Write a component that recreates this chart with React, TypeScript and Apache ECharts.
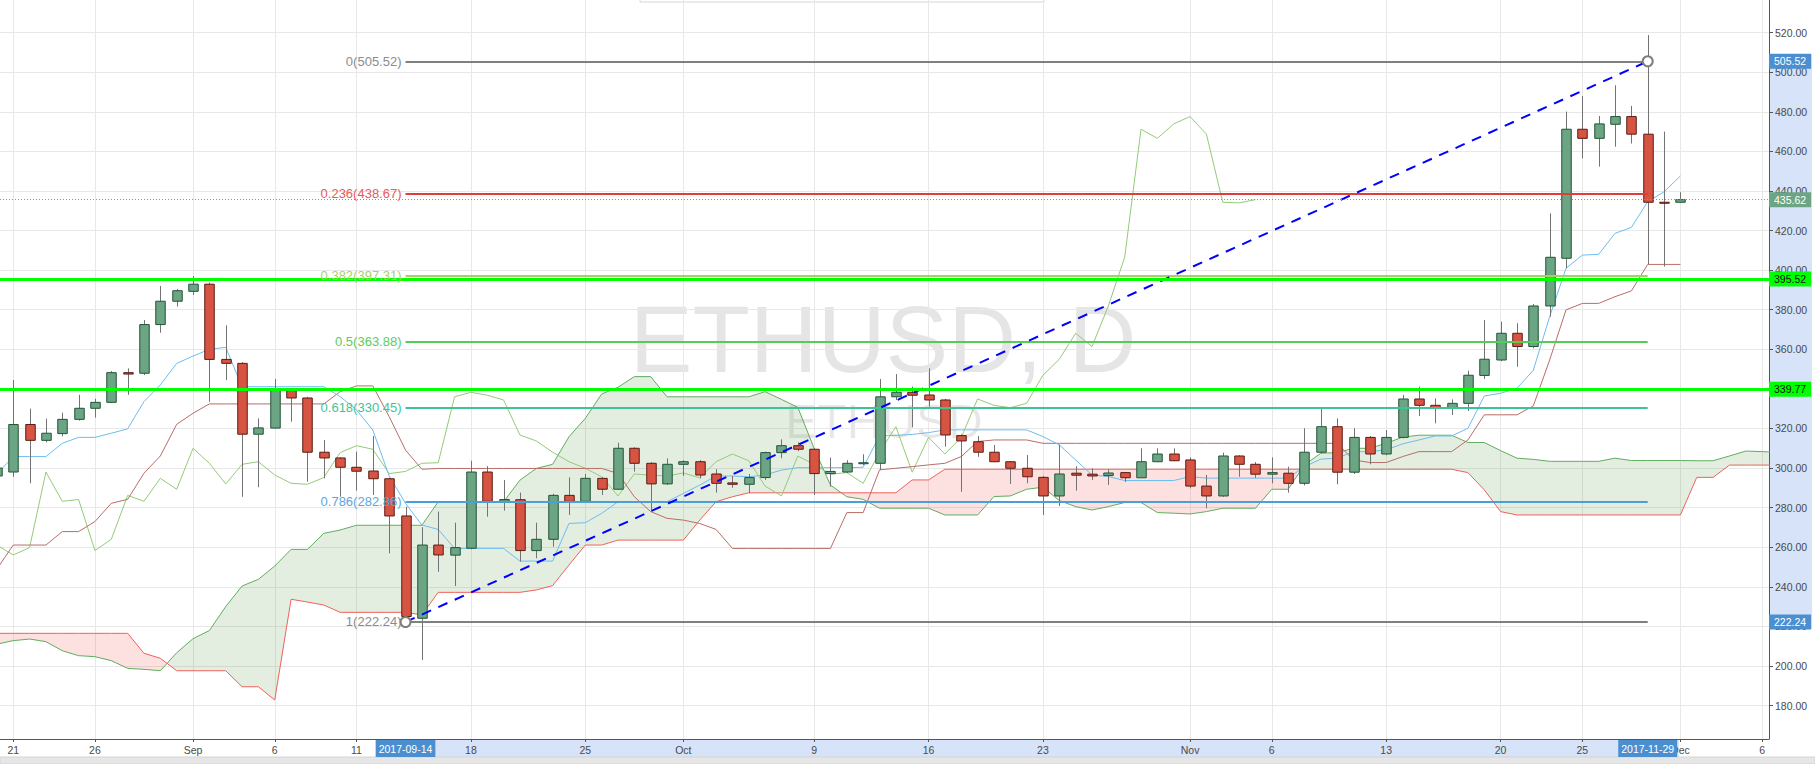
import React, { useEffect, useRef } from "react";
import * as echarts from "echarts";

// Day index 0 = 2017-08-21; first candle is 2017-08-20 (day -1)
const START_DAY = -1;

const opens = [
  296, 298, 322, 314, 317.4, 324.6, 330.2, 333.2, 348.2, 347.9,
  372.5, 384.3, 389.3, 392.9, 354.9, 352.9, 317.1, 320.2, 339.3, 335.4,
  308, 305.1, 300.4, 298.5, 294.6, 275.8, 224.1, 261.1, 256, 259.5,
  298, 283.2, 284, 258.3, 264, 286.2, 283.2, 294.8, 289.3, 310,
  302.4, 292, 301.9, 303.2, 297, 292.5, 291.8, 295.2, 307.8, 311.3,
  309.5, 297.2, 298, 302.2, 302.4, 336, 338.3, 336.9, 334.4, 316.4,
  313.3, 308, 303.2, 299.9, 295.3, 285.9, 297.4, 296.9, 296.2, 297.7,
  295.1, 303.2, 307.1, 304.1, 290.9, 285.9, 306.1, 301.9, 296.9, 297.4,
  292.3, 308, 320.9, 297.9, 315.5, 307.1, 315.5, 334.9, 331.7, 330.2,
  332.7, 346.8, 354.6, 368.1, 361.4, 381.9, 406, 471.2, 466.6, 473.7,
  477.6, 468.7, 434.3, 434.3,
];
const highs = [
  302, 344.5, 330, 325, 328, 337, 335, 349, 350.4, 374.8,
  392, 390.5, 397, 393.7, 372.1, 353.5, 325.1, 345, 340, 336,
  314.2, 305.5, 308.3, 316.2, 295, 280.5, 270.1, 278, 272.4, 303.7,
  301, 294, 287.6, 272.4, 287, 295.3, 297, 295.5, 312.8, 310.5,
  303, 304.9, 304, 304, 299.4, 296, 297, 308.3, 314.5, 313,
  310, 305.3, 304, 307, 345, 347.5, 341.2, 350.4, 335, 317,
  316.2, 311.7, 303.5, 306.6, 296, 311.8, 301, 299.9, 299.4, 298,
  310, 310, 310, 305.4, 296.5, 307.8, 306.5, 303, 305.4, 300.7,
  320.1, 329.9, 325.1, 320.1, 316.2, 319.2, 336.9, 341.2, 335.2, 334.7,
  349.2, 374.8, 374, 373.2, 382.9, 428.7, 480.1, 488, 477.9, 493.4,
  483, 518.8, 470, 439.4,
];
const lows = [
  292, 295.6, 292.3, 313, 316, 324, 325.5, 333, 337, 347,
  368.4, 381.6, 387.5, 333.5, 344.4, 285.5, 290.3, 320, 323.4, 293.1,
  294.8, 285.5, 288.6, 286.4, 256.9, 222, 203, 247.6, 240.4, 259,
  275.4, 278.5, 252.7, 254.4, 260.3, 276.3, 283, 286.4, 289, 298.2,
  278, 291.5, 296, 294.8, 287.6, 290, 287.3, 294, 305, 308.5,
  286.4, 290.6, 297.5, 301.5, 299, 334.4, 320.6, 331, 310.8, 288,
  305.7, 303, 292, 292.3, 276.3, 280.8, 288.6, 294, 291.5, 293,
  295, 303, 303.5, 289.8, 279.7, 285.5, 295.6, 295, 292.3, 287.6,
  291.2, 307.5, 291.8, 297, 301.9, 306.5, 315, 326.3, 322.6, 326.8,
  328.8, 345, 354, 351.2, 360.5, 376.5, 401, 456.5, 452.3, 462.4,
  464, 403, 401.8, 434,
];
const closes = [
  300, 322, 314, 317.6, 324.6, 330.2, 333.2, 348.2, 347.5, 372.5,
  384.3, 389.6, 392.9, 354.9, 352.9, 317.1, 320.3, 339.3, 335.4, 308,
  305.1, 300.4, 298.4, 294.6, 275.8, 225, 261.1, 256.1, 259.8, 298,
  283.2, 284.1, 258.3, 264, 286.2, 283.2, 294.8, 289.3, 310, 302.4,
  292, 301.9, 303.2, 296.5, 292.3, 291.8, 295.2, 307.8, 311.3, 309.5,
  297.2, 298.3, 302.4, 302.7, 336, 338.3, 336.8, 334.4, 316.7, 313.7,
  308, 303.2, 299.9, 295.6, 285.9, 297, 296.4, 296, 297.5, 295.1,
  303.2, 307.1, 303.7, 290.9, 285.9, 306.1, 301.9, 296.9, 297.7, 292.3,
  308, 320.9, 297.9, 315.5, 307.1, 315.5, 334.9, 331.7, 330.5, 332.7,
  346.9, 355, 368.1, 361.4, 381.9, 406.5, 471.2, 466.6, 473.9, 477.6,
  468.7, 434.3, 434.0, 435.62,
];

// Ichimoku lines, starting at day -1
const tenkan = [
  297, 305.8, 305.8, 305.8, 312.5, 315.5, 315.5, 317.6, 319.8, 333.6,
  342, 352.9, 356.6, 360, 361, 341.1, 341.1, 341.1, 341.1, 341.1,
  341.1, 336.1, 329.4, 319.2, 296, 282.2, 271.2, 269, 259.4, 259.4,
  259.4, 259.4, 253, 253, 253, 272, 272.4, 277.1, 283, 283,
  283, 283, 287.2, 291.4, 296, 296, 295.6, 296.5, 299, 300.2,
  300.2, 300.2, 300.2, 300.4, 316.2, 316.5, 317, 317.9, 319.3, 319.3,
  319.3, 319.3, 319.3, 319.3, 315.9, 311.7, 304.1, 296.5, 295.7, 293.7,
  293.7, 293.7, 293.7, 295.7, 294.9, 294.9, 294.9, 294.9, 294.9, 294.9,
  300.7, 304.5, 305, 308.3, 308.3, 309.2, 312.2, 314.2, 316.2, 316.2,
  320.1, 336.4, 337.8, 340.3, 349.4, 376.5, 400.9, 407.6, 408, 418.6,
  421.6, 434.6, 439.6, 447.6,
];
const kijun = [
  249, 261.1, 261.1, 261.1, 267.9, 267.9, 273, 282.2, 284.2, 297.4,
  306.1, 322.1, 327.7, 332.4, 332.4, 332.4, 332.4, 332.4, 332.4, 332.4,
  332.4, 338.6, 341.5, 341.5, 326, 309.1, 299.4, 299.8, 299.8, 299.8,
  299.8, 299.8, 299.8, 299.8, 299.8, 299.8, 299.8, 299.8, 297.3, 285.5,
  278, 274.6, 273.7, 272, 269, 259.4, 259.4, 259.4, 259.4, 259.4,
  259.4, 259.4, 277.5, 277.5, 299.1, 299.9, 300.7, 301.6, 302.4, 305.8,
  313.4, 314.2, 314.2, 314.2, 312.5, 312.5, 312.5, 312.5, 312.5, 312.5,
  312.5, 312.5, 312.5, 312.5, 312.5, 312.5, 312.5, 312.5, 312.5, 312.5,
  312.5, 312.5, 312.5, 304.1, 302.8, 302.8, 305.8, 308.3, 308.3, 308.3,
  314.2, 326.9, 326.9, 326.9, 331.4, 354.6, 379.9, 383.2, 383.2, 386.6,
  389.5, 402.9, 402.9, 402.9,
];
const chikou = [
  261.1, 256.1, 259.8, 298, 283.2, 284.1, 258.3, 264, 286.2, 283.2,
  294.8, 289.3, 310, 302.4, 292, 301.9, 303.2, 296.5, 292.3, 291.8,
  295.2, 307.8, 311.3, 309.5, 297.2, 298.3, 302.4, 302.7, 336, 338.3,
  336.8, 334.4, 316.7, 313.7, 308, 303.2, 299.9, 295.6, 285.9, 297,
  296.4, 296, 297.5, 295.1, 303.2, 307.1, 303.7, 290.9, 285.9, 306.1,
  301.9, 296.9, 297.7, 292.3, 308, 320.9, 297.9, 315.5, 307.1, 315.5,
  334.9, 331.7, 330.5, 332.7, 346.9, 355, 368.1, 361.4, 381.9, 406.5,
  471.2, 466.6, 473.9, 477.6, 468.7, 434.3, 434.0, 435.62,
];
const spanA = [
  211, 212.8, 213.6, 212.3, 207.7, 205.2, 204.7, 202.7, 198.8, 198.3,
  197.6, 206.7, 213.8, 217.9, 230, 240.4, 243.8, 250.5, 258.9, 258.9,
  267, 268.7, 271.1, 271.1, 271.1, 271.1, 271.1, 283, 283, 283,
  283, 283, 293.9, 299.8, 301.9, 315.8, 325.1, 337.4, 340.8, 346.2,
  346.2, 336, 336, 336, 336, 336, 336, 338.6, 334.7, 330.7,
  309.9, 291.4, 285.5, 284.2, 279.7, 279.7, 279.7, 279.7, 276.3, 276.3,
  276.3, 285.6, 285.9, 289.3, 290.3, 283.6, 280.5, 278.8, 280.5, 282.6,
  282.6, 277.5, 277.2, 276.8, 278, 279.7, 279.7, 279.7, 289.3, 289.3,
  301.6, 307.5, 307.8, 310, 310, 312.5, 315.6, 316.6, 316.6, 316.6,
  312.9, 312.9, 308.8, 305, 304.4, 303.4, 303.4, 303.4, 303.4, 305,
  303.8, 303.8, 303.8, 303.8, 303.7, 303.7, 306.1, 308.6, 308.3, 308,
];
const spanB = [
  216.5, 216.5, 216.5, 216.5, 216.5, 216.5, 216.5, 216.5, 216.5, 206.4,
  203.9, 197.6, 197.6, 197.6, 197.6, 189.5, 189.5, 182.8, 233.7, 232.3,
  230.8, 227.1, 227.1, 227.1, 227.1, 227.1, 225.8, 237.2, 237.2, 237.2,
  237.2, 237.2, 237.2, 238.4, 240.6, 251, 261.1, 261.1, 263.6, 263.6,
  263.6, 263.6, 263.6, 273.7, 283, 285.5, 287.5, 287.5, 287.5, 287.5,
  287.5, 287.5, 287.5, 287.5, 287.5, 287.5, 294, 294, 299.4, 299.4,
  299.4, 299.4, 299.4, 299.4, 299.4, 299.4, 299.4, 299.4, 299.4, 299.4,
  299.4, 299.4, 299.4, 299.4, 299.4, 299.4, 299.4, 299.4, 299.4, 299.4,
  299.4, 299.4, 299.4, 299.4, 299.4, 299.4, 299.4, 299.4, 299.4, 299.4,
  297.7, 289, 278, 276.3, 276.3, 276.3, 276.3, 276.3, 276.3, 276.3,
  276.3, 276.3, 276.3, 276.3, 295.3, 295.3, 301.5, 301.5, 301.5, 301.5,
];

const dateTickDays = [0, 5, 11, 16, 21, 28, 35, 41, 49, 56, 63, 72, 77, 84, 91, 96, 102, 107];
const dateTickLabels = ["21", "26", "Sep", "6", "11", "18", "25", "Oct", "9", "16", "23", "Nov", "6", "13", "20", "25", "Dec", "6"];
const priceTicks = [180, 200, 220, 240, 260, 280, 300, 320, 340, 360, 380, 400, 420, 440, 460, 480, 500, 520];

const fibLevels = [0, 0.236, 0.382, 0.5, 0.618, 0.786, 1];
const fibPrices = [505.52, 438.67, 397.31, 363.88, 330.45, 282.86, 222.24];
const fibAnchorDays = [24, 100];
const fibAnchorDates = ["2017-09-14", "2017-11-29"];
const fibAnchorPrices = [222.24, 505.52];
const levelLines = [395.52, 339.77];
const lastPrice = 435.62;

// styles / layout
const FONT = "Liberation Sans, Arial, sans-serif";
const FIB_COLORS = ["#808080", "#e03c3c", "#a6d060", "#55cc55", "#3ec29a", "#4a9fdb", "#808080"];
const FIB_LABEL_COLORS = ["#8c8c8c", "#e55a5a", "#a9d166", "#5ccd5c", "#3fc39c", "#5ba7dd", "#8c8c8c"];
const X_MIN = -0.81;
const X_MAX = 107.42;
const Y_MIN = 163.1;
const Y_MAX = 536.5;
const BOX_BLUE = "#4c8fd1";
const HILITE = "#d6e3f8";
const HIDDEN_LINE = { color: "rgba(0,0,0,0)", width: 0, opacity: 1, type: "solid" };

type Region = { up: boolean; pts: number[][] };

function cloudRegions(): Region[] {
  const regions: Region[] = [];
  let cur: Region | null = null;
  for (let i = 0; i < spanA.length; i++) {
    const d = START_DAY + i;
    const a = spanA[i];
    const b = spanB[i];
    const up = a >= b;
    if (!cur) {
      cur = { up, pts: [[d, a, b]] };
      continue;
    }
    if (up !== cur.up) {
      const pa = spanA[i - 1];
      const pb = spanB[i - 1];
      const t = (pa - pb) / ((pa - pb) - (a - b));
      const xd = d - 1 + t;
      const xv = pa + t * (a - pa);
      cur.pts.push([xd, xv, xv]);
      regions.push(cur);
      cur = { up, pts: [[xd, xv, xv], [d, a, b]] };
    } else {
      cur.pts.push([d, a, b]);
    }
  }
  if (cur) regions.push(cur);
  return regions;
}

const lineSeries = (name: string, values: number[], color: string, z: number) => ({
  type: "line",
  name,
  data: values.map((v, i) => [START_DAY + i, v]),
  symbol: "none",
  showSymbol: false,
  silent: true,
  z,
  lineStyle: { color, width: 1 },
  emphasis: { disabled: true },
});

function axisBoxLabel(text: string, bg: string, fg: string) {
  return {
    show: true,
    position: "end",
    distance: 0,
    opacity: 1,
    formatter: text,
    backgroundColor: bg,
    color: fg,
    padding: [2, 5, 2, 5],
    fontSize: 10.5,
    fontFamily: FONT,
  };
}

function buildOption(): any {
  const regions = cloudRegions();
  const markData: any[] = [];
  fibPrices.forEach((p, i) => {
    markData.push([
      {
        coord: [fibAnchorDays[0], p],
        lineStyle: { color: FIB_COLORS[i], width: 2, type: "solid", opacity: 1 },
        label: {
          show: true,
          position: "start",
          distance: 4,
          formatter: `${fibLevels[i]}(${p.toFixed(2)})`,
          color: FIB_LABEL_COLORS[i],
          fontSize: 13,
          fontFamily: FONT,
        },
      },
      { coord: [fibAnchorDays[1], p] },
    ]);
  });
  markData.push([
    {
      coord: [fibAnchorDays[0], fibAnchorPrices[0]],
      lineStyle: { color: "#0000ff", width: 2, type: [10, 8], opacity: 1 },
      label: { show: false },
    },
    { coord: [fibAnchorDays[1], fibAnchorPrices[1]] },
  ]);
  levelLines.forEach((v) => {
    markData.push({
      yAxis: v,
      lineStyle: { color: "#00ff00", width: 3, type: "solid", opacity: 1 },
      label: axisBoxLabel(v.toFixed(2), "#00ff00", "#111"),
    });
  });
  markData.push({
    yAxis: lastPrice,
    lineStyle: { color: "#6ba583", width: 1, type: [1, 2], opacity: 1 },
    label: axisBoxLabel(lastPrice.toFixed(2), "#6ba583", "#ffffff"),
  });
  fibAnchorPrices.forEach((v) => {
    markData.push({
      yAxis: v,
      lineStyle: HIDDEN_LINE,
      label: axisBoxLabel(v.toFixed(2), BOX_BLUE, "#ffffff"),
    });
  });
  fibAnchorDays.forEach((d, i) => {
    markData.push({
      xAxis: d,
      lineStyle: HIDDEN_LINE,
      label: {
        show: true,
        position: "start",
        distance: 1,
        opacity: 1,
        formatter: fibAnchorDates[i],
        backgroundColor: BOX_BLUE,
        color: "#ffffff",
        padding: [3, 3, 3, 3],
        fontSize: 10.5,
        fontFamily: FONT,
      },
    });
  });

  return {
    animation: false,
    textStyle: { fontFamily: FONT },
    tooltip: { show: false },
    grid: { left: 0, top: 0, right: 46, bottom: 25, containLabel: false },
    xAxis: {
      type: "value",
      min: X_MIN,
      max: X_MAX,
      position: "bottom",
      axisLine: { show: true, onZero: false, lineStyle: { color: "#555555", width: 1 } },
      axisTick: { show: true, length: 3, customValues: dateTickDays, lineStyle: { color: "#555555" } },
      axisLabel: {
        customValues: dateTickDays,
        formatter: (v: number) => {
          const k = dateTickDays.indexOf(Math.round(v));
          return k >= 0 ? dateTickLabels[k] : "";
        },
        color: "#4a4a4a",
        fontSize: 10.5,
        margin: 5,
        fontFamily: FONT,
      },
      splitLine: { show: true, lineStyle: { color: "#e8e8e8", width: 1 } },
    },
    yAxis: {
      type: "value",
      position: "right",
      min: Y_MIN,
      max: Y_MAX,
      scale: true,
      axisLine: { show: true, onZero: false, lineStyle: { color: "#555555", width: 1 } },
      axisTick: { show: true, length: 4, customValues: priceTicks, lineStyle: { color: "#555555" } },
      axisLabel: {
        customValues: priceTicks,
        formatter: (v: number) => v.toFixed(2),
        color: "#4a4a4a",
        fontSize: 10.5,
        margin: 6,
        fontFamily: FONT,
      },
      splitLine: { show: true, lineStyle: { color: "#e8e8e8", width: 1 } },
    },
    series: [
      {
        type: "custom",
        name: "cloud",
        z: 1,
        clip: true,
        silent: true,
        data: regions.map((r) => [r.pts[0][0], r.pts[0][1]]),
        encode: { x: 0, y: 1 },
        renderItem: (params: any, api: any) => {
          const r = regions[params.dataIndex];
          const top = r.pts.map((p) => api.coord([p[0], p[1]]));
          const bot = r.pts.slice().reverse().map((p) => api.coord([p[0], p[2]]));
          return {
            type: "polygon",
            shape: { points: top.concat(bot) },
            style: { fill: r.up ? "rgba(80,150,70,0.16)" : "rgba(245,60,60,0.16)", stroke: "none" },
          };
        },
      },
      lineSeries("Lead 1", spanA, "#5fae5f", 2),
      lineSeries("Lead 2", spanB, "#ee625a", 2),
      lineSeries("Lagging Span", chikou, "#92cc78", 2),
      lineSeries("Base Line", kijun, "#b96d67", 2),
      lineSeries("Conversion Line", tenkan, "#6dbdf0", 2),
      {
        type: "custom",
        name: "ETHUSD",
        z: 3,
        clip: true,
        silent: true,
        data: opens.map((o, i) => [START_DAY + i, o, closes[i], lows[i], highs[i]]),
        encode: { x: 0, y: [1, 2, 3, 4] },
        renderItem: (params: any, api: any) => {
          const d = api.value(0);
          const o = api.value(1);
          const c = api.value(2);
          const l = api.value(3);
          const h = api.value(4);
          const pO = api.coord([d, o]);
          const pC = api.coord([d, c]);
          const pL = api.coord([d, l]);
          const pH = api.coord([d, h]);
          const bw = api.size([1, 0])[0] * 0.58;
          const up = c >= o;
          const top = Math.min(pO[1], pC[1]);
          const bot = Math.max(pO[1], pC[1]);
          const x = Math.round(pO[0]) + 0.5;
          return {
            type: "group",
            children: [
              { type: "line", shape: { x1: x, y1: pH[1], x2: x, y2: pL[1] }, style: { stroke: "#737375", lineWidth: 1 } },
              {
                type: "rect",
                shape: { x: x - bw / 2, y: top, width: bw, height: Math.max(bot - top, 1) },
                style: { fill: up ? "#6ba583" : "#d75442", stroke: up ? "#225437" : "#5b1a13", lineWidth: 1 },
              },
            ],
          };
        },
      },
      {
        type: "scatter",
        name: "fib anchors",
        z: 6,
        silent: true,
        data: fibAnchorDays.map((d, i) => [d, fibAnchorPrices[i]]),
        symbol: "circle",
        symbolSize: 10,
        itemStyle: { color: "#ffffff", borderColor: "#7f7f7f", borderWidth: 2, opacity: 1 },
        emphasis: { disabled: true },
        markLine: {
          silent: true,
          symbol: ["none", "none"],
          animation: false,
          emphasis: { disabled: true },
          data: markData,
        },
      },
    ],
  };
}

export default function App() {
  const ref = useRef<HTMLDivElement | null>(null);
  useEffect(() => {
    const el = ref.current;
    if (!el) return;
    const chart = echarts.init(el, null, { renderer: "svg" });
    chart.setOption(buildOption());
    const toPx = (d: number, p: number) => chart.convertToPixel({ gridIndex: 0 }, [d, p]) as number[];
    const pTop = toPx(fibAnchorDays[0], fibAnchorPrices[1]);
    const pBot = toPx(fibAnchorDays[1], fibAnchorPrices[0]);
    const corner = toPx(X_MAX, Y_MIN);
    const W = 1815;
    const H = 764;
    chart.setOption({
      graphic: [
        {
          type: "text",
          z: -5,
          silent: true,
          style: {
            text: "ETHUSD, D",
            x: 883,
            y: 339,
            textAlign: "center",
            textVerticalAlign: "middle",
            font: `94px ${FONT}`,
            fill: "rgba(0,0,0,0.10)",
          },
        },
        {
          type: "text",
          z: -5,
          silent: true,
          style: {
            text: "ETHUSD",
            x: 884,
            y: 421,
            textAlign: "center",
            textVerticalAlign: "middle",
            font: `48px ${FONT}`,
            fill: "rgba(0,0,0,0.09)",
          },
        },
        {
          type: "rect",
          z: -1,
          silent: true,
          shape: { x: corner[0] + 1, y: pTop[1] - 7, width: 42, height: pBot[1] - pTop[1] + 14 },
          style: { fill: HILITE },
        },
        {
          type: "rect",
          z: -1,
          silent: true,
          shape: { x: pTop[0] - 29, y: corner[1] + 1, width: pBot[0] - pTop[0] + 60, height: 17 },
          style: { fill: HILITE },
        },
        {
          type: "rect",
          z: -1,
          silent: true,
          shape: { x: 0, y: H - 7, width: W, height: 7 },
          style: { fill: "#e6e6e6", stroke: "#d4d4d4", lineWidth: 1 },
        },
        {
          type: "rect",
          z: -1,
          silent: true,
          shape: { x: 640, y: -10, width: 404, height: 12 },
          style: { fill: "#ffffff", stroke: "#d6d6d6", lineWidth: 1 },
        },
      ],
    });
    return () => {
      chart.dispose();
    };
  }, []);
  return (
    <div
      ref={ref}
      style={{ position: "absolute", left: 0, top: 0, width: 1815, height: 764, background: "#ffffff" }}
    />
  );
}
